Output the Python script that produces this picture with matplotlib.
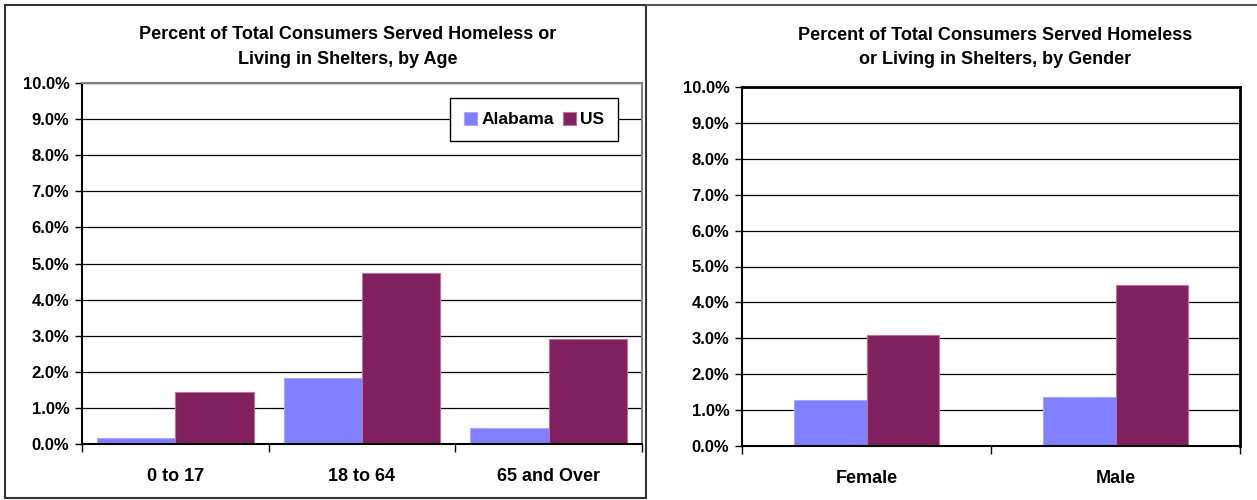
import matplotlib
matplotlib.use("Agg")
import matplotlib.pyplot as plt
from matplotlib.patches import Rectangle
from matplotlib.lines import Line2D
import numpy as np

plt.rcParams['font.family'] = ['Liberation Sans', 'DejaVu Sans']
plt.rcParams['font.weight'] = 'bold'

# data (percent)
age_groups = ["0 to 17", "18 to 64", "65 and Over"]
age_alabama = [0.18, 1.84, 0.43]
age_us = [1.44, 4.75, 2.92]

genders = ["Female", "Male"]
gender_alabama = [1.28, 1.37]
gender_us = [3.08, 4.48]

series_names = ["Alabama", "US"]
al_color = "#8080FF"
us_color = "#80205F"
yticks = np.arange(0, 11, 1)

fig = plt.figure(figsize=(12.57, 5.0), dpi=100)

#Panel borders
W, H = 1257, 500
fig.patches.append(Rectangle((5 / W, 1 - 498 / H), 641 / W, 493 / H, transform=fig.transFigure,
                             fill=False, edgecolor="#333333", lw=1.5))
fig.lines.append(Line2D([647 / W, 1], [1 - 5 / H, 1 - 5 / H], transform=fig.transFigure,
                        color="#555555", lw=1.5))


def style_axis(ax, cats, top_color, spine_w):
    ax.set_xlim(-0.5, len(cats) - 0.5)
    ax.set_ylim(0, 10)
    ax.set_yticks(yticks)
    ax.set_yticklabels(["%.1f%%" % v for v in yticks], fontsize=12, fontweight='bold')
    ax.yaxis.grid(True, color="black", lw=0.9)
    ax.set_axisbelow(True)
    ax.set_xticks(np.arange(-0.5, len(cats), 1.0))
    ax.set_xticklabels([])
    ax.set_xticks(np.arange(len(cats)), minor=True)
    ax.set_xticklabels(cats, minor=True, fontsize=13, fontweight='bold')
    ax.tick_params(axis='x', which='minor', length=0, pad=17)
    ax.tick_params(axis='x', which='major', length=6, direction='out', width=1)
    ax.tick_params(axis='y', length=5, direction='out', width=1, pad=4)
    ax.spines['left'].set_color('black')
    ax.spines['bottom'].set_color('black')
    ax.spines['left'].set_linewidth(1.5)
    ax.spines['bottom'].set_linewidth(1.5)
    for s in ['top', 'right']:
        ax.spines[s].set_color(top_color)
        ax.spines[s].set_linewidth(spine_w)


#Left chart: by age
ax1 = fig.add_axes([82 / W, 1 - 444 / H, 560 / W, 361 / H])
x = np.arange(len(age_groups))
bw = 0.42
ax1.bar(x - bw / 2, age_alabama, bw, color=al_color, edgecolor="#A8A8FF", lw=0.8, label=series_names[0])
ax1.bar(x + bw / 2, age_us, bw, color=us_color, edgecolor="#C07090", lw=0.8, label=series_names[1])
style_axis(ax1, age_groups, "#808080", 1.5)
leg = ax1.legend(loc='upper right', bbox_to_anchor=(0.957, 0.958), borderaxespad=0, ncol=2,
                 fancybox=False, framealpha=1, edgecolor='black', handlelength=0.75, handleheight=0.75,
                 handletextpad=0.25, columnspacing=0.5, borderpad=0.8,
                 prop={'size': 12.5, 'weight': 'bold'})
leg.get_frame().set_linewidth(1.0)

fig.text(348 / W, 1 - 34 / H, "Percent of Total Consumers Served Homeless or",
         ha='center', va='center', fontsize=13, fontweight='bold')
fig.text(348 / W, 1 - 59 / H, "Living in Shelters, by Age",
         ha='center', va='center', fontsize=13, fontweight='bold')

#Right chart: by gender
ax2 = fig.add_axes([742 / W, 1 - 446 / H, 498 / W, 359 / H])
x2 = np.arange(len(genders))
bw2 = 0.29
ax2.bar(x2 - bw2 / 2, gender_alabama, bw2, color=al_color, edgecolor="#A8A8FF", lw=0.8)
ax2.bar(x2 + bw2 / 2, gender_us, bw2, color=us_color, edgecolor="#C07090", lw=0.8)
style_axis(ax2, genders, "black", 2.0)

fig.text(995 / W, 1 - 35 / H, "Percent of Total Consumers Served Homeless",
         ha='center', va='center', fontsize=13, fontweight='bold')
fig.text(995 / W, 1 - 60 / H, "or Living in Shelters, by Gender",
         ha='center', va='center', fontsize=13, fontweight='bold')

fig.savefig("out.png", dpi=100)
